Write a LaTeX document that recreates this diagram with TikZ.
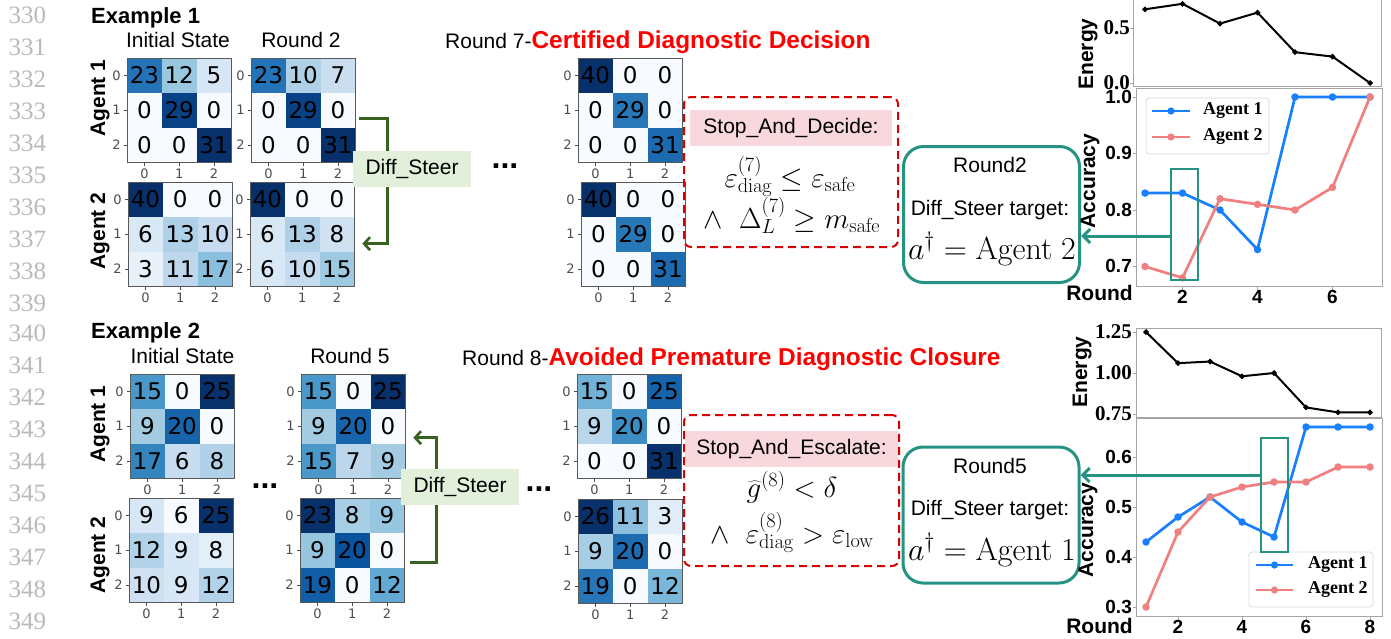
\RequirePackage{fix-cm}
\documentclass[tikz,border=0pt]{standalone}
\usepackage[no-math]{fontspec}
\setmainfont{Liberation Sans}
\newfontfamily\cellfam{DejaVu Sans}
\newfontfamily\timesfam{Liberation Serif}
\usetikzlibrary{calc,arrows.meta}

\newcommand{\px}[1]{\fontsize{#1}{#1}\selectfont}

% Blues colour map, nine stops
\definecolor{bl0}{RGB}{247,251,255}
\definecolor{bl1}{RGB}{222,235,247}
\definecolor{bl2}{RGB}{198,219,239}
\definecolor{bl3}{RGB}{158,202,225}
\definecolor{bl4}{RGB}{107,174,214}
\definecolor{bl5}{RGB}{66,146,198}
\definecolor{bl6}{RGB}{33,113,181}
\definecolor{bl7}{RGB}{8,81,156}
\definecolor{bl8}{RGB}{8,48,107}
\definecolor{steergreen}{RGB}{56,98,32}
\definecolor{steerfill}{RGB}{226,239,218}
\definecolor{tealline}{RGB}{38,146,130}
\definecolor{stopred}{RGB}{214,0,0}
\definecolor{stopfill}{RGB}{249,216,221}
\definecolor{titlered}{RGB}{255,0,0}
\definecolor{agentone}{RGB}{24,128,255}
\definecolor{agenttwo}{RGB}{240,128,128}
\definecolor{numgray}{RGB}{185,185,185}
\definecolor{spinegray}{RGB}{165,165,165}

\tikzset{
  matframe/.style={draw=black!65, line width=0.9pt, minimum width=104.4pt, minimum height=104.4pt, inner sep=0pt},
  cellnum/.style={font=\cellfam\px{23}, inner sep=0pt},
  ticklab/.style={font=\cellfam\px{13}, inner sep=0pt},
  mtick/.style={black!70, line width=0.8pt},
  linenum/.style={font=\timesfam\px{25}, text=numgray},
  heading/.style={font=\bfseries\px{22}, anchor=base west, inner sep=0pt},
  coltitle/.style={font=\px{21}, anchor=base, inner sep=0pt},
  agentlab/.style={font=\bfseries\px{21}, rotate=90},
  steer/.style={steergreen, line width=2.6pt, -{Straight Barb[length=6pt,width=13pt]}},
  steerlabel/.style={fill=steerfill, font=\px{21}, minimum width=118pt, minimum height=36pt, inner sep=0pt},
  dotsnode/.style={font=\bfseries\px{32}, anchor=base, inner sep=0pt},
  stopbox/.style={draw=stopred, line width=2pt, dash pattern=on 8pt off 5pt, rounded corners=7pt, minimum width=214pt, minimum height=150pt, inner sep=0pt},
  stoplabel/.style={fill=stopfill, font=\px{21}, minimum height=36pt, inner sep=0pt},
  cond/.style={font=\px{29}, anchor=base, inner sep=0pt},
  targetbox/.style={draw=tealline, line width=3pt, rounded corners=20pt, minimum width=176pt, minimum height=136pt, inner sep=0pt},
  targettext/.style={font=\px{21}, anchor=base, inner sep=0pt},
  pick/.style={draw=tealline, line width=2.2pt, minimum width=27pt, inner sep=0pt},
  pickarrow/.style={tealline, line width=3pt, -{Straight Barb[length=7pt,width=14pt]}},
  spine/.style={draw=spinegray, line width=1pt},
  ptick/.style={spinegray, line width=1pt},
  ylab/.style={font=\bfseries\px{19}, anchor=east, inner sep=0pt},
  elab/.style={font=\timesfam\bfseries\px{21}, anchor=east, inner sep=0pt},
  xlab/.style={font=\bfseries\px{19}, anchor=north, inner sep=0pt},
  axlab/.style={font=\bfseries\px{21}},
  energy/.style={black, line width=2pt, mark=*, mark size=1.6pt},
  accone/.style={agentone, line width=2.7pt, mark=*, mark size=2.3pt},
  acctwo/.style={agenttwo, line width=2.7pt, mark=*, mark size=2.3pt},
  legbox/.style={draw=black!15, fill=white, fill opacity=0.8, rounded corners=3pt, line width=0.8pt},
  legtext/.style={font=\timesfam\bfseries\px{18}, anchor=west, inner sep=0pt},
}

% name, x, y (top left), vmin, vmax, the nine counts row by row
\newcommand{\confmat}[6]{%
  \foreach \v [count=\i from 0] in {#6} {
    \pgfmathtruncatemacro\hrow{int(\i/3)}
    \pgfmathtruncatemacro\hcol{\i-3*\hrow}
    \pgfmathsetmacro\tval{8*(\v-#4)/(#5-#4)}
    \pgfmathtruncatemacro\lo{min(int(\tval),7)}
    \pgfmathtruncatemacro\hi{\lo+1}
    \pgfmathtruncatemacro\pct{round(100*(\tval-\lo))}
    \colorlet{cellfill}{bl\hi!\pct!bl\lo}
    \fill[cellfill] (#2+34.8*\hcol,#3+34.8*\hrow) rectangle ++(34.8,34.8);
    \node[cellnum] (#1-\i) at (#2+34.8*\hcol+17.4,#3+34.8*\hrow+17.4) {\v};
  }
  \node[matframe, anchor=north west] (#1) at (#2,#3) {};
  \foreach \j in {0,1,2} {
    \draw[mtick] (#2,#3+17.4+34.8*\j) -- ++(-3.5,0) node[ticklab, anchor=east, xshift=-2.5pt] (#1-r\j) {\j};
    \draw[mtick] (#2+17.4+34.8*\j,#3+104.4) -- ++(0,3.5) node[ticklab, anchor=north, yshift=-2.5pt] (#1-c\j) {\j};
  }
}

\begin{document}
\begin{tikzpicture}[x=1pt, y=-1pt]
\useasboundingbox (0,0) rectangle (1391,638);

\foreach \n [count=\k from 0] in {330,...,339}
  \node[linenum] (ln\n) at (27.5,15+32*\k) {\n};
\foreach \n [count=\k from 0] in {340,...,349}
  \node[linenum] (ln\n) at (27.5,333+32*\k) {\n};

% ---- first example
\node[heading] (ex1) at (91,23) {Example 1};
\node[coltitle] (ex1init) at (178,47) {Initial State};
\node[coltitle] (ex1r2) at (301,47) {Round 2};
\node[anchor=base west, inner sep=0pt, font=\px{21}] (ex1r7) at (445,48)
  {Round 7-\textcolor{titlered}{\bfseries\px{24.4}Certified Diagnostic Decision}};
\node[agentlab] (ex1ag1) at (100,98) {Agent 1};
\node[agentlab] (ex1ag2) at (100,231) {Agent 2};

\confmat{e1a1init}{127}{58}{0}{31}{23,12,5,0,29,0,0,0,31}
\confmat{e1a1r2}{251}{58}{0}{31}{23,10,7,0,29,0,0,0,31}
\confmat{e1a2init}{128}{182}{0}{40}{40,0,0,6,13,10,3,11,17}
\confmat{e1a2r2}{250}{182}{0}{40}{40,0,0,6,13,8,6,10,15}
\confmat{e1a1r7}{578}{58}{0}{40}{40,0,0,0,29,0,0,0,31}
\confmat{e1a2r7}{581}{182}{0}{40}{40,0,0,0,29,0,0,0,31}

\draw[steer] ($(e1a1r2.east)+(3,8)$) -- ++(28,0) |- ($(e1a2r2.east)+(7,9)$);
\node[steerlabel] (steer1) at (412,169) {Diff\_Steer};
\node[dotsnode] (dots1) at (505,168) {...};

\node[stopbox] (stop1) at (791,172) {};
\node[stoplabel, minimum width=202pt] (stop1lab) at (791,128) {Stop\_And\_Decide:};
\node[cond] (cond1a) at (790,187) {$\varepsilon^{(7)}_{\mathrm{diag}} \le \varepsilon_{\mathrm{safe}}$};
\node[cond] (cond1b) at (792,228) {$\wedge\ \ \Delta^{(7)}_{L} \ge m_{\mathrm{safe}}$};

\node[targetbox] (tb1) at (991.5,214.5) {};
\node[targettext] (tb1a) at (990,172) {Round2};
\node[targettext] (tb1b) at (990,215) {Diff\_Steer target:};
\node[targettext, font=\px{32}] (tb1c) at (992,259) {$a^{\dagger} = \mathrm{Agent\ 2}$};

% energy / accuracy, first example
\draw[spine] (1133,-5) rectangle (1381,86);
\foreach \v/\y [count=\i] in {0.0/83,0.5/28} {
  \draw[ptick] (1133,\y) -- ++(-3.5,0);
  \node[elab] (e1en\i) at (1130,\y) {\v};
}
\begin{scope}[shift={(1107.5,83)}, x=37.5pt, y=110pt]
  \draw[energy] plot coordinates {(1,0.67) (2,0.72) (3,0.54) (4,0.64) (5,0.28) (6,0.24) (7,0.0)};
\end{scope}
\node[axlab, rotate=90] (e1energy) at (1088,54) {Energy};

\draw[spine] (1136,88) rectangle (1382,286);
\foreach \v/\y [count=\i] in {1.0/97,0.9/153,0.8/210,0.7/266} {
  \draw[ptick] (1136,\y) -- ++(-3.5,0);
  \node[ylab] (e1acc\i) at (1132,\y) {\v};
}
\foreach \r [count=\i] in {2,4,6} {
  \draw[ptick] (1107.5+37.5*\r,286) -- ++(0,3.5);
  \node[xlab] (e1rd\i) at (1107.5+37.5*\r,290) {\r};
}
\begin{scope}[shift={(1107.5,662)}, x=37.5pt, y=565pt]
  \draw[accone] plot coordinates {(1,0.83) (2,0.83) (3,0.80) (4,0.73) (5,1.0) (6,1.0) (7,1.0)};
  \draw[acctwo] plot coordinates {(1,0.70) (2,0.68) (3,0.82) (4,0.81) (5,0.80) (6,0.84) (7,1.0)};
\end{scope}
\node[axlab, rotate=90] (e1accuracy) at (1090,181) {Accuracy};
\node[axlab] (e1round) at (1099.5,293) {Round};

\draw[legbox] (1146,98) rectangle (1269,154);
\draw[agentone, line width=2.7pt] (1152,111) -- (1190,111);
\fill[agentone] (1171,111) circle (3.6pt);
\node[legtext] (e1leg1) at (1203,111) {Agent 1};
\draw[agenttwo, line width=2.7pt] (1152,137) -- (1190,137);
\fill[agenttwo] (1171,137) circle (3.6pt);
\node[legtext] (e1leg2) at (1203,137) {Agent 2};

\node[pick, minimum height=111pt] (hl1) at (1184.5,224.5) {};
\coordinate (from1) at ($(hl1.west)+(0,11.5)$);
\draw[pickarrow] (from1) -- (from1 -| tb1.east);

% ---- second example
\node[heading] (ex2) at (91,338) {Example 2};
\node[coltitle] (ex2init) at (182.5,363) {Initial State};
\node[coltitle] (ex2r5) at (350,363) {Round 5};
\node[anchor=base west, inner sep=0pt, font=\px{21}] (ex2r8) at (462,365)
  {Round 8-\textcolor{titlered}{\bfseries\px{24.4}Avoided Premature Diagnostic Closure}};
\node[agentlab] (ex2ag1) at (100,424) {Agent 1};
\node[agentlab] (ex2ag2) at (100,555) {Agent 2};

\confmat{e2a1init}{130}{374}{0}{25}{15,0,25,9,20,0,17,6,8}
\confmat{e2a1r5}{301}{374}{0}{25}{15,0,25,9,20,0,15,7,9}
\confmat{e2a2init}{129}{498}{6}{25}{9,6,25,12,9,8,10,9,12}
\confmat{e2a2r5}{300}{498}{0}{23}{23,8,9,9,20,0,19,0,12}
\confmat{e2a1r8}{577}{374}{0}{31}{15,0,25,9,20,0,0,0,31}
\confmat{e2a2r8}{578}{499}{0}{26}{26,11,3,9,20,0,19,0,12}

\node[dotsnode] (dots2) at (265,488) {...};
\draw[steer] ($(e2a2r5.east)+(5,12)$) -- ++(26,0) |- ($(e2a1r5.east)+(7,11)$);
\node[steerlabel] (steer2) at (460,487) {Diff\_Steer};
\node[dotsnode] (dots3) at (539,491) {...};

\node[stopbox, minimum width=215pt, minimum height=151pt] (stop2) at (791.5,490.5) {};
\node[stoplabel, minimum width=213pt] (stop2lab) at (791.5,449) {Stop\_And\_Escalate:};
\node[cond] (cond2a) at (792,497) {$\widehat{g}^{(8)} < \delta$};
\node[cond] (cond2b) at (792,543) {$\wedge\ \ \varepsilon^{(8)}_{\mathrm{diag}} > \varepsilon_{\mathrm{low}}$};

\node[targetbox] (tb2) at (991,515) {};
\node[targettext] (tb2a) at (990,473) {Round5};
\node[targettext] (tb2b) at (990,515) {Diff\_Steer target:};
\node[targettext, font=\px{32}] (tb2c) at (992,560) {$a^{\dagger} = \mathrm{Agent\ 1}$};

% energy / accuracy, second example
\draw[spine] (1136,328) rectangle (1381,417);
\foreach \v/\y [count=\i] in {1.25/332,1.00/373,0.75/414} {
  \draw[ptick] (1136,\y) -- ++(-3.5,0);
  \node[elab] (e2en\i) at (1132,\y) {\v};
}
\begin{scope}[shift={(1114,537)}, x=32pt, y=164pt]
  \draw[energy] plot coordinates {(1,1.25) (2,1.06) (3,1.07) (4,0.98) (5,1.00) (6,0.79) (7,0.76) (8,0.76)};
\end{scope}
\node[axlab, rotate=90] (e2energy) at (1082,372) {Energy};

\draw[spine] (1136,418) rectangle (1382,616);
\foreach \v/\y [count=\i] in {0.6/457,0.5/507,0.4/557,0.3/607} {
  \draw[ptick] (1136,\y) -- ++(-3.5,0);
  \node[ylab] (e2acc\i) at (1132,\y) {\v};
}
\foreach \r [count=\i] in {2,4,6,8} {
  \draw[ptick] (1114+32*\r,616) -- ++(0,3.5);
  \node[xlab] (e2rd\i) at (1114+32*\r,620) {\r};
}
\begin{scope}[shift={(1114,757)}, x=32pt, y=500pt]
  \draw[accone] plot coordinates {(1,0.43) (2,0.48) (3,0.52) (4,0.47) (5,0.44) (6,0.66) (7,0.66) (8,0.66)};
  \draw[acctwo] plot coordinates {(1,0.30) (2,0.45) (3,0.52) (4,0.54) (5,0.55) (6,0.55) (7,0.58) (8,0.58)};
\end{scope}
\node[axlab, rotate=90] (e2accuracy) at (1088,530) {Accuracy};
\node[axlab] (e2round) at (1099.5,626) {Round};

\draw[legbox] (1249,552) rectangle (1373,607);
\draw[agentone, line width=2.7pt] (1256,565) -- (1293,565);
\fill[agentone] (1274.5,565) circle (3.6pt);
\node[legtext] (e2leg1) at (1308,565) {Agent 1};
\draw[agenttwo, line width=2.7pt] (1256,590) -- (1293,590);
\fill[agenttwo] (1274.5,590) circle (3.6pt);
\node[legtext] (e2leg2) at (1308,590) {Agent 2};

\node[pick, minimum height=114pt] (hl2) at (1274.5,495) {};
\coordinate (from2) at ($(hl2.west)+(0,-20)$);
\draw[pickarrow] (from2) -- (from2 -| tb2.east);
\end{tikzpicture}
\end{document}
